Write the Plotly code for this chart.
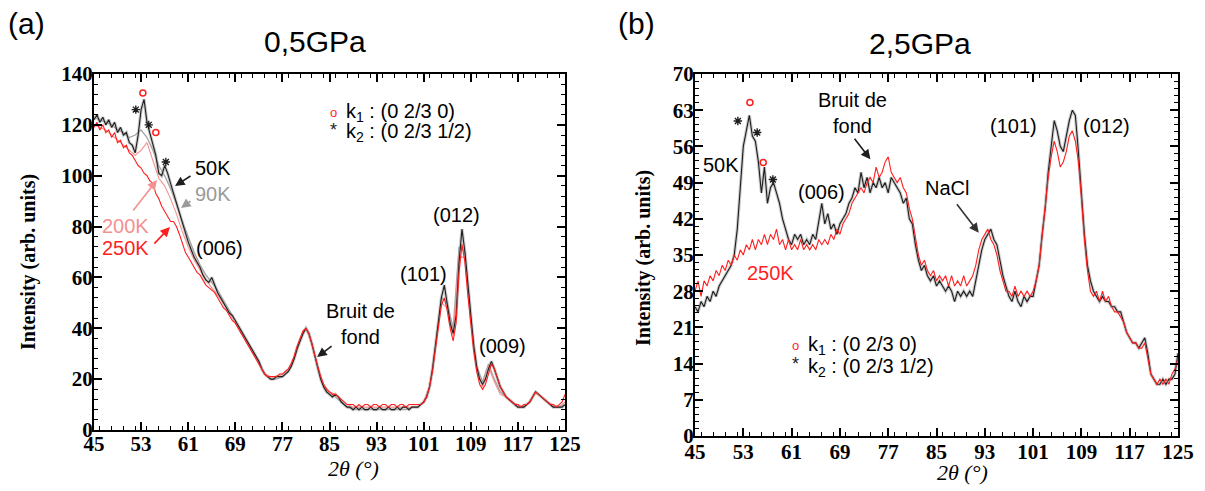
import plotly.graph_objects as go

# ---------------- data ----------------
# 2theta sampling grids (degrees)
tth_fine = [45 + 0.5 * i for i in range(161)]     # 45 .. 125 step 0.5
tth_coarse = list(range(45, 126))                  # 45 .. 125 step 1

x_tick_vals = [45, 53, 61, 69, 77, 85, 93, 101, 109, 117, 125]
y_ticks_a = [0, 20, 40, 60, 80, 100, 120, 140]
y_ticks_b = [0, 7, 14, 21, 28, 35, 42, 49, 56, 63, 70]

# (a) 0.5 GPa
a_50K = [122, 124, 121, 123, 120, 122, 119, 121, 117, 119,
         116, 117, 113, 112, 109, 116, 126, 130, 121, 117,
         113, 108, 101, 100, 104, 101, 97, 93, 89, 85,
         81, 78, 74, 71, 68, 66, 64, 61, 59, 58,
         60, 57, 54, 52, 50, 48, 46, 45, 43, 41,
         39, 37, 35, 33, 31, 29, 27, 24, 22, 21,
         20, 20, 21, 21, 21, 22, 23, 25, 28, 32,
         35, 38, 40, 38, 34, 29, 24, 20, 17, 15,
         14, 13, 14, 13, 11, 10, 9, 9, 8, 9,
         8, 9, 8, 8, 9, 8, 8, 9, 8, 8,
         9, 8, 8, 9, 8, 9, 9, 8, 9, 9,
         9, 10, 11, 13, 17, 24, 33, 43, 52, 57,
         50, 42, 38, 45, 66, 79, 70, 57, 44, 33,
         25, 20, 18, 20, 24, 27, 24, 20, 17, 15,
         13, 12, 11, 10, 9, 9, 9, 10, 11, 13,
         15, 14, 13, 12, 11, 10, 9, 9, 9, 9,
         10]
a_250K = [119, 121, 118, 120, 117, 118, 115, 117, 113, 114,
          111, 112, 109, 108, 106, 104, 103, 101, 100, 98,
          97, 93, 91, 88, 86, 84, 82, 82, 80, 77,
          73, 70, 68, 66, 64, 62, 61, 59, 57, 56,
          55, 54, 52, 50, 48, 47, 45, 43, 42, 40,
          38, 36, 34, 32, 30, 28, 26, 24, 22, 21,
          21, 21, 21, 22, 22, 23, 24, 26, 29, 33,
          36, 39, 40, 38, 34, 29, 25, 21, 18, 16,
          15, 14, 14, 13, 12, 11, 10, 10, 10, 9,
          10, 9, 10, 10, 9, 10, 10, 9, 10, 10,
          9, 10, 10, 9, 10, 10, 9, 10, 10, 10,
          10, 10, 11, 13, 17, 23, 32, 41, 49, 52,
          47, 40, 35, 42, 62, 73, 66, 53, 41, 31,
          23, 18, 16, 18, 22, 26, 24, 20, 17, 15,
          13, 12, 11, 10, 10, 9, 10, 10, 11, 13,
          15, 14, 13, 12, 11, 10, 10, 9, 10, 11,
          14]
a_90K = [123, 122, 121, 120, 118, 117, 115, 116, 118, 115,
         110, 104, 100, 95, 89, 82, 76, 70, 65, 61,
         58, 55, 51, 47, 43, 39, 35, 31, 27, 22,
         20, 20, 21, 23, 28, 35, 40, 34, 24, 17,
         14, 13, 11, 9, 8, 8, 8, 8, 8, 8,
         8, 8, 8, 8, 9, 9, 11, 17, 33, 52,
         50, 40, 72, 70, 44, 25, 19, 26, 20, 15,
         13, 11, 9, 9, 11, 15, 13, 11, 9, 9,
         10]
a_200K = [120, 119, 118, 116, 114, 112, 110, 108, 110, 113,
          106, 99, 96, 91, 85, 78, 72, 67, 63, 59,
          56, 53, 50, 46, 42, 38, 34, 30, 26, 22,
          21, 21, 22, 24, 29, 36, 40, 34, 25, 18,
          15, 14, 12, 10, 9, 9, 9, 9, 9, 9,
          9, 9, 9, 9, 9, 9, 11, 17, 32, 50,
          48, 37, 68, 68, 42, 24, 17, 25, 19, 14,
          13, 11, 10, 9, 11, 15, 13, 11, 10, 9,
          11]
a_k1_x = [53.3, 55.5]
a_k1_y = [132.5, 117]
a_k2_x = [52.1, 54.3, 57.2]
a_k2_y = [126, 120, 105.4]

# (b) 2.5 GPa
b_50K = [25, 24, 26, 25, 27, 26, 28, 27, 29, 30,
         31, 32, 33, 35, 40, 48, 56, 59, 62, 58,
         57, 53, 47, 52, 45, 48, 49, 47, 45, 42,
         40, 38, 37, 39, 38, 39, 37, 38, 37, 39,
         38, 42, 45, 41, 43, 40, 41, 39, 41, 42,
         43, 45, 46, 48, 47, 51, 48, 50, 47, 49,
         48, 50, 48, 49, 47, 50, 49, 48, 47, 45,
         46, 42, 41, 37, 34, 32, 33, 31, 30, 31,
         29, 30, 29, 28, 29, 28, 26, 28, 27, 28,
         27, 28, 27, 30, 33, 36, 38, 39, 40, 38,
         37, 34, 31, 29, 27, 26, 28, 26, 25, 27,
         26, 27, 27, 30, 33, 39, 44, 51, 56, 61,
         59, 56, 55, 58, 61, 63, 62, 55, 46, 39,
         33, 30, 28, 27, 26, 27, 26, 26, 25, 25,
         24, 24, 22, 20, 19, 18, 18, 17, 18, 19,
         16, 12, 11, 10, 10, 11, 10, 11, 11, 12,
         16]
b_250K = [28, 30, 27, 30, 29, 31, 30, 32, 31, 33,
          32, 34, 33, 35, 34, 36, 35, 37, 36, 38,
          36, 38, 37, 39, 37, 39, 38, 40, 37, 38,
          36, 38, 36, 37, 36, 38, 36, 37, 36, 37,
          36, 38, 37, 38, 37, 39, 38, 40, 39, 41,
          42, 43, 45, 46, 47, 48, 47, 49, 50, 49,
          52, 50, 51, 53, 54, 51, 50, 49, 50, 48,
          47, 44, 42, 38, 35, 33, 34, 32, 31, 32,
          30, 31, 30, 31, 29, 31, 29, 30, 29, 31,
          29, 30, 31, 33, 36, 38, 39, 40, 38, 37,
          35, 32, 30, 28, 28, 27, 29, 27, 28, 27,
          28, 27, 28, 30, 33, 39, 44, 50, 54, 57,
          55, 52, 53, 55, 58, 59, 57, 53, 46, 38,
          32, 28, 27, 28, 26, 28, 26, 27, 25, 24,
          24, 23, 22, 20, 19, 18, 18, 17, 17, 18,
          15, 12, 11, 10, 11, 10, 11, 10, 12, 13,
          15]
b_k1_x = [54.1, 56.3]
b_k1_y = [64.5, 52.9]
b_k2_x = [52.1, 55.3, 57.9]
b_k2_y = [60.9, 58.7, 49.6]

legend_k1 = "k<sub>1</sub> : (0 2/3 0)"
legend_k2 = "k<sub>2</sub> : (0 2/3 1/2)"

# ---------------- styles ----------------
BLACK = "#1e1e1e"
RED = "#ff1f1f"
GREY = "#a3a3a3"
PINK = "#f39191"
HALO = "rgba(160,160,160,0.55)"
SANS = "Liberation Sans, Arial, sans-serif"
SERIF = "Liberation Serif, Times New Roman, serif"
W, H = 1205, 491
OFF = 8  # page body margin of the rendered html


def px(xp):
    return (xp - OFF) / W


def py(yp):
    return 1 - (yp - OFF) / H


fig = go.Figure()


def line(x, y, color, width, xa, ya):
    fig.add_trace(go.Scatter(x=x, y=y, mode="lines", xaxis=xa, yaxis=ya,
                             line=dict(color=color, width=width),
                             showlegend=False, hoverinfo="skip"))


# panel (a)
line(tth_fine, a_50K, HALO, 3.2, "x", "y")
line(tth_coarse, a_90K, GREY, 1.3, "x", "y")
line(tth_coarse, a_200K, PINK, 1.1, "x", "y")
line(tth_fine, a_50K, BLACK, 1.1, "x", "y")
line(tth_fine, a_250K, RED, 1.1, "x", "y")
# panel (b)
line(tth_fine, b_50K, HALO, 3.2, "x2", "y2")
line(tth_fine, b_50K, BLACK, 1.1, "x2", "y2")
line(tth_fine, b_250K, RED, 1.1, "x2", "y2")

k1_marker = dict(symbol="circle-open", size=6, color=RED, line=dict(width=1.5, color=RED))
k2_marker = dict(symbol="asterisk-open", size=7, color=BLACK, line=dict(width=1.4, color=BLACK))

for xs, ys, mk, xa, ya in [(a_k1_x, a_k1_y, k1_marker, "x", "y"),
                           (a_k2_x, a_k2_y, k2_marker, "x", "y"),
                           (b_k1_x, b_k1_y, k1_marker, "x2", "y2"),
                           (b_k2_x, b_k2_y, k2_marker, "x2", "y2")]:
    fig.add_trace(go.Scatter(x=xs, y=ys, mode="markers", xaxis=xa, yaxis=ya,
                             marker=mk, showlegend=False, hoverinfo="skip"))


def axis_common(tickvals, minor_dtick, rng, standoff):
    return dict(range=rng, tickvals=tickvals, ticks="inside", ticklen=8, tickwidth=1.5,
                tickcolor="black", showline=True, linecolor="black", linewidth=2,
                mirror="ticks", showgrid=False, zeroline=False, automargin=False,
                ticklabelstandoff=standoff,
                tickfont=dict(family=SERIF, size=21, color="black", weight="bold"),
                minor=dict(ticks="inside", ticklen=4, tickwidth=1, tickcolor="black",
                           dtick=minor_dtick, showgrid=False))


xa = axis_common(x_tick_vals, 2, [45, 125], -6)
xa.update(domain=[px(94), px(565)], anchor="y")
ya = axis_common(y_ticks_a, 4, [0, 140], -5)
ya.update(domain=[py(430), py(74)], anchor="x")
xb = axis_common(x_tick_vals, 2, [45, 125], -4)
xb.update(domain=[px(695), px(1178)], anchor="y2")
yb = axis_common(y_ticks_b, 1.4, [0, 70], -5)
yb.update(domain=[py(436), py(74)], anchor="x2")

fig.update_layout(
    width=W, height=H, margin=dict(l=0, r=0, t=0, b=0, pad=0, autoexpand=False),
    paper_bgcolor="white", plot_bgcolor="white", showlegend=False,
    xaxis=xa, yaxis=ya, xaxis2=xb, yaxis2=yb,
)

anns = []


def txt(text, x, y, xref, yref, size=20, color="black", family=SANS, xanchor="center", **kw):
    anns.append(dict(text=text, x=x, y=y, xref=xref, yref=yref, showarrow=False,
                     font=dict(family=family, size=size, color=color),
                     xanchor=xanchor, yanchor="middle", **kw))


def arrow(x, y, ax, ay, xref, yref, color="black"):
    anns.append(dict(text="", x=x, y=y, ax=ax, ay=ay, xref=xref, yref=yref,
                     axref="pixel", ayref="pixel", showarrow=True, arrowhead=2,
                     arrowsize=1.2, arrowwidth=1.6, arrowcolor=color))


# panel labels and titles (paper coords)
txt("(a)", px(26), py(24), "paper", "paper", size=30)
txt("0,5GPa", px(315), py(42), "paper", "paper", size=30)
txt("(b)", px(636), py(24), "paper", "paper", size=30)
txt("2,5GPa", px(920), py(43), "paper", "paper", size=30)

# axis titles
txt("<b>Intensity (arb. units)</b>", px(28), py(262), "paper", "paper", size=20,
    family=SERIF, textangle=-90)
txt("<b>Intensity (arb. units)</b>", px(643), py(258), "paper", "paper", size=20,
    family=SERIF, textangle=-90)
txt("<i>2θ (°)</i>", px(353), py(468), "paper", "paper", size=22, family=SERIF)
txt("<i>2θ (°)</i>", px(962), py(472), "paper", "paper", size=22, family=SERIF)

# in-plot legends (symbol glyph + text), paper coords
for (sx, y1, y2) in [(333, 112, 133), (795, 345, 367)]:
    txt("o", px(sx), py(y1), "paper", "paper", size=13, color=RED)
    txt("*", px(sx), py(y2 - 3), "paper", "paper", size=18, color=BLACK)
    txt(legend_k1, px(sx + 11), py(y1), "paper", "paper", size=20, xanchor="left")
    txt(legend_k2, px(sx + 11), py(y2), "paper", "paper", size=20, xanchor="left")

# panel (a) annotations
txt("50K", 65.2, 103.0, "x", "y")
txt("90K", 65.2, 92.8, "x", "y", color="#9a9a9a")
txt("200K", 50.4, 80.2, "x", "y", color=PINK)
txt("250K", 50.4, 71.6, "x", "y", color=RED)
txt("(006)", 66.4, 71.6, "x", "y")
txt("Bruit de<br>fond", 90.2, 41.7, "x", "y")
txt("(101)", 101.05, 61.3, "x", "y")
txt("(012)", 106.65, 84.6, "x", "y")
txt("(009)", 114.3, 33.0, "x", "y")
arrow(58.76, 95.95, 17, -11, "x", "y", BLACK)
arrow(59.78, 87.3, 11, -8, "x", "y", "#9a9a9a")
arrow(55.7, 98.3, -25, 32, "x", "y", PINK)
arrow(57.9, 79.8, -17, 18, "x", "y", RED)
arrow(82.9, 28.7, 16, -12, "x", "y", BLACK)

# panel (b) annotations
txt("50K", 49.3, 52.5, "x2", "y2")
txt("250K", 57.45, 31.5, "x2", "y2", color=RED)
txt("(006)", 65.9, 47.25, "x2", "y2")
txt("Bruit de<br>fond", 71.06, 62.4, "x2", "y2")
txt("NaCl", 86.8, 48.0, "x2", "y2")
txt("(101)", 97.8, 59.9, "x2", "y2")
txt("(012)", 113.2, 59.9, "x2", "y2")
arrow(74.05, 53.5, -17, -22, "x2", "y2", BLACK)
arrow(92.0, 39.3, -23, -30, "x2", "y2", "#333333")

fig.update_layout(annotations=anns)
fig.write_html("out.html")
